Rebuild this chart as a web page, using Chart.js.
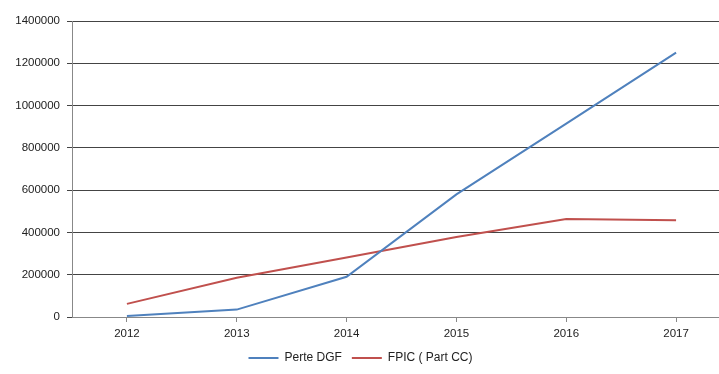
<!DOCTYPE html>
<html>
<head>
<meta charset="utf-8">
<script src="https://cdn.jsdelivr.net/npm/chart.js@4"></script>
<style>
  html, body { margin: 0; padding: 0; background: #fff; overflow: hidden; }
  #wrap { width: 735px; height: 374px; position: relative; }
</style>
</head>
<body>
<div id="wrap"><canvas id="c"></canvas></div>
<script>
// Years on the horizontal axis
const years = ['2012', '2013', '2014', '2015', '2016', '2017'];
// Series values (euros)
const perteDGF = [5000, 35000, 190000, 580000, 915000, 1250000];
const fpicPartCC = [62000, 186000, 281000, 378000, 463000, 458000];
// Vertical axis settings
const yMin = 0;
const yMax = 1400000;
const yStep = 200000;

const fontFamily = '"Liberation Sans", Arial, sans-serif';

// Nudges the legend a little to the left of the canvas centre
const legendShift = {
  id: 'legendShift',
  afterLayout(chart) {
    const lg = chart.legend;
    if (lg) { lg.left -= 5; lg.right -= 5; }
  }
};

new Chart(document.getElementById('c'), {
  type: 'line',
  data: {
    labels: years,
    datasets: [
      {
        label: 'Perte DGF',
        data: perteDGF,
        borderColor: '#4F81BD',
        backgroundColor: '#4F81BD',
        borderWidth: 2,
        pointRadius: 0,
        pointStyle: 'line',
        tension: 0
      },
      {
        label: 'FPIC ( Part CC)',
        data: fpicPartCC,
        borderColor: '#C0504D',
        backgroundColor: '#C0504D',
        borderWidth: 2,
        pointRadius: 0,
        pointStyle: 'line',
        tension: 0
      }
    ]
  },
  plugins: [legendShift],
  options: {
    responsive: true,
    maintainAspectRatio: false,
    animation: false,
    layout: { padding: { top: 21, right: 4, left: 0, bottom: 0 } },
    plugins: {
      tooltip: { enabled: false },
      legend: {
        position: 'bottom',
        labels: {
          usePointStyle: true,
          pointStyleWidth: 30,
          boxHeight: 11,
          padding: 10,
          color: '#222',
          font: { family: fontFamily, size: 12 }
        }
      }
    },
    scales: {
      x: {
        offset: true,
        afterFit: s => { s.height = 25; },
        grid: {
          drawOnChartArea: false,
          drawTicks: true,
          tickLength: 5,
          color: '#888'
        },
        border: { color: '#888', width: 1 },
        ticks: {
          color: '#222',
          padding: 5,
          font: { family: fontFamily, size: 11.5 }
        }
      },
      y: {
        min: yMin,
        max: yMax,
        afterFit: s => { s.width = 72; },
        grid: {
          color: '#444',
          lineWidth: 1,
          tickLength: 5
        },
        border: { color: '#888', width: 1 },
        ticks: {
          stepSize: yStep,
          color: '#222',
          padding: 7,
          font: { family: fontFamily, size: 11.5 },
          callback: v => String(v)
        }
      }
    }
  }
});
</script>
</body>
</html>
